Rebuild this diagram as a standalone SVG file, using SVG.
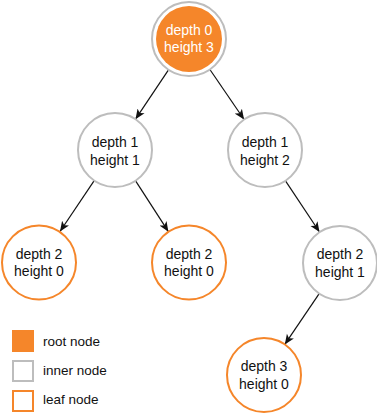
<svg xmlns="http://www.w3.org/2000/svg" width="377" height="414" viewBox="0 0 377 414">
<style>
text{font-family:"Liberation Sans",Arial,sans-serif;font-size:14px;fill:#111;text-anchor:middle}
.inner{fill:#fff;stroke:#bdbdbd;stroke-width:2}
.leaf{fill:#fff;stroke:#f5862a;stroke-width:2}
.rootfill{fill:#f5862a}
.edge{stroke:#111;stroke-width:1.2;fill:none;marker-end:url(#arr)}
.leg{text-anchor:start;font-size:13.5px}
</style>
<defs>
<marker id="arr" viewBox="0 0 10 10" refX="10" refY="5" markerWidth="10" markerHeight="10" markerUnits="userSpaceOnUse" orient="auto">
<path d="M0,0.8 L10,5 L0,9.2 L2.5,5 Z" fill="#111"/>
</marker>
</defs>
<g id="connectors">
<line class="edge" x1="168.5" y1="69.8" x2="135.5" y2="119.2"/>
<line class="edge" x1="209.9" y1="69.5" x2="244.1" y2="119.5"/>
<line class="edge" x1="94.2" y1="180.6" x2="60" y2="231.5"/>
<line class="edge" x1="135.6" y1="180.8" x2="168.4" y2="231.7"/>
<line class="edge" x1="285.5" y1="180.8" x2="319.5" y2="232"/>
<line class="edge" x1="319.2" y1="293.6" x2="284.8" y2="344.4"/>
</g>
<g id="n0">
<circle class="inner" cx="189" cy="39" r="37"/>
<circle class="rootfill" cx="189" cy="39" r="33"/>
<text x="189" y="35" style="fill:#fff">depth 0</text>
<text x="189" y="52" style="fill:#fff">height 3</text>
</g>
<g id="n1">
<circle class="inner" cx="115" cy="150" r="37"/>
<text x="115" y="147">depth 1</text>
<text x="115" y="165">height 1</text>
</g>
<g id="n2">
<circle class="inner" cx="265" cy="150" r="37"/>
<text x="265" y="147">depth 1</text>
<text x="265" y="165">height 2</text>
</g>
<g id="n3">
<circle class="leaf" cx="39" cy="262.5" r="37"/>
<text x="39" y="259">depth 2</text>
<text x="39" y="276">height 0</text>
</g>
<g id="n4">
<circle class="leaf" cx="189" cy="262.5" r="37"/>
<text x="189" y="259">depth 2</text>
<text x="189" y="276">height 0</text>
</g>
<g id="n5">
<circle class="inner" cx="340" cy="263" r="37"/>
<text x="340" y="259">depth 2</text>
<text x="340" y="277">height 1</text>
</g>
<g id="n6">
<circle class="leaf" cx="264" cy="375" r="37"/>
<text x="264" y="371">depth 3</text>
<text x="264" y="389">height 0</text>
</g>
<g id="legend">
<rect x="12" y="330" width="22" height="22" fill="#f5862a"/>
<text class="leg" x="43" y="346">root node</text>
<rect x="13" y="361" width="20" height="20" class="inner"/>
<text class="leg" x="43" y="375">inner node</text>
<rect x="13" y="391" width="20" height="20" class="leaf"/>
<text class="leg" x="43" y="404">leaf node</text>
</g>
</svg>
